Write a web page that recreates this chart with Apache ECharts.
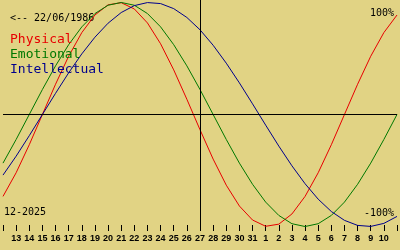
<!DOCTYPE html>
<html><head><meta charset="utf-8">
<script src="https://cdn.jsdelivr.net/npm/echarts@6/dist/echarts.min.js"></script>
<style>html,body{margin:0;padding:0;background:#e1d384}#c{width:400px;height:250px}</style>
</head><body><div id="c"></div>
<script>
// Days shown: 12 Dec 2025 .. 11 Jan 2026
const dayLabels = [12,13,14,15,16,17,18,19,20,21,22,23,24,25,26,27,28,29,30,31,1,2,3,4,5,6,7,8,9,10,11];
const todayIndex = 15; // 27
const physical = [-73.1,-52.0,-27.0,0,27.0,52.0,73.1,88.8,97.9,99.8,94.2,81.7,63.1,39.8,13.6,-13.6,-39.8,-63.1,-81.7,-94.2,-99.8,-97.9,-88.8,-73.1,-52.0,-27.0,0,27.0,52.0,73.1,88.8];
const emotional = [-43.4,-22.3,0,22.3,43.4,62.3,78.2,90.1,97.5,100,97.5,90.1,78.2,62.3,43.4,22.3,0,-22.3,-43.4,-62.3,-78.2,-90.1,-97.5,-100,-97.5,-90.1,-78.2,-62.3,-43.4,-22.3,0];
const intellectual = [-54.1,-37.2,-18.9,0,18.9,37.2,54.1,69.0,81.5,91.0,97.2,99.9,99.0,94.5,86.6,75.6,61.8,45.8,28.2,9.5,-9.5,-28.2,-45.8,-61.8,-75.6,-86.6,-94.5,-99.0,-99.9,-97.2,-91.0];
const seriesNames = ['Physical','Emotional','Intellectual'];
const colors = ['#e80000','#007800','#00008c'];
const birthText = '<-- 22/06/1986';
const monthText = '12-2025';
const topLabel = '100%';
const bottomLabel = '-100%';

const mono = 'DejaVu Sans Mono';
const chart = echarts.init(document.getElementById('c'), null, {renderer:'canvas'});
const lineSeries = [physical, emotional, intellectual].map((d,i)=>({
  name: seriesNames[i], type:'line', data:d, symbol:'none', silent:true,
  lineStyle:{color:colors[i], width:1}, itemStyle:{color:colors[i]}, z:3
}));
lineSeries.push({
  type:'line', data:[], symbol:'none', silent:true, z:5,
  markLine:{symbol:'none', silent:true, label:{show:false},
    lineStyle:{color:'#000', width:1, type:'solid'},
    data:[{yAxis:0},{xAxis:todayIndex}]}
});
chart.setOption({
  animation:false,
  backgroundColor:'#e1d384',
  grid:{left:0,right:0,top:0,bottom:19,containLabel:false},
  xAxis:{type:'category', data:dayLabels, boundaryGap:false,
    axisLine:{show:false, onZero:false},
    axisTick:{show:true, inside:true, length:6, interval:0, lineStyle:{color:'#000',width:1}},
    axisLabel:{interval:0, margin:3, color:'#000', fontFamily:'Liberation Sans', fontWeight:'bold', fontSize:9,
      formatter:(v,i)=> (i===0||i===dayLabels.length-1)?'':v},
    splitLine:{show:false}},
  yAxis:{type:'value', min:-104.0, max:102.2, show:false, splitLine:{show:false}},
  legend:{orient:'vertical', left:0, top:27, itemWidth:0, itemHeight:0, itemGap:0, icon:'none',
    selectedMode:false,
    textStyle:{fontFamily:mono, fontSize:13, lineHeight:15},
    data:seriesNames.map((n,i)=>({name:n, textStyle:{color:colors[i]}}))},
  graphic:[
    {type:'text', left:10, top:13, style:{text:birthText, font:'10px "DejaVu Sans Mono"', fill:'#000'}},
    {type:'text', right:6, top:8, style:{text:topLabel, font:'10px "DejaVu Sans Mono"', fill:'#000'}},
    {type:'text', right:6, top:208.5, style:{text:bottomLabel, font:'10px "DejaVu Sans Mono"', fill:'#000'}},
    {type:'text', left:4, top:207, style:{text:monthText, font:'10px "DejaVu Sans Mono"', fill:'#000'}}
  ],
  series: lineSeries
});
</script></body></html>
